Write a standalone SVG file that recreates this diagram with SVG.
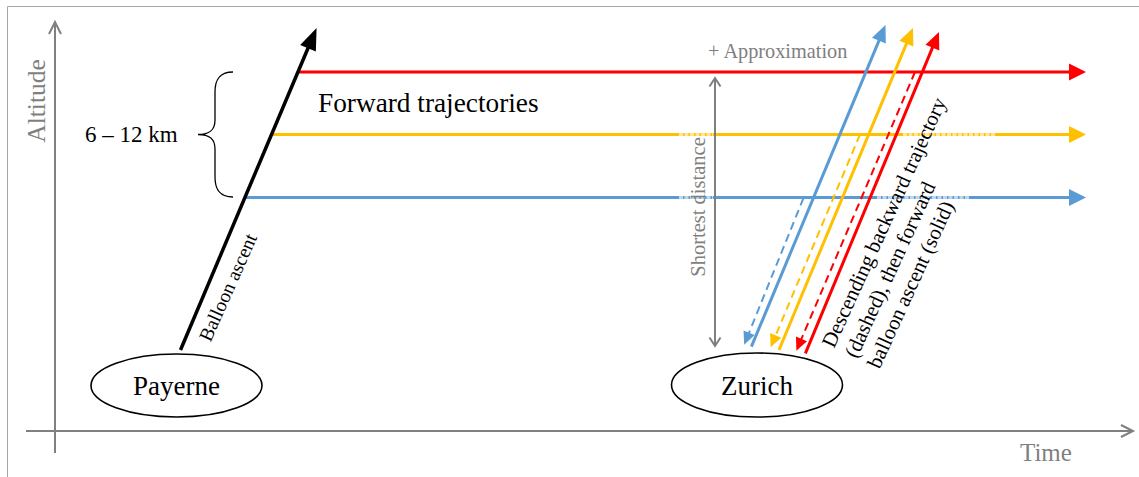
<svg xmlns="http://www.w3.org/2000/svg" width="1139" height="477" viewBox="0 0 1139 477">
<style>
text{font-family:"Liberation Serif","Times New Roman",serif;fill:#000}
.g{fill:#7f7f7f}
.axis{stroke:#808080;stroke-width:2;fill:none}
.node{fill:#fff;stroke:#000;stroke-width:1.6}
.red{stroke:#FF0000}
.yel{stroke:#FFC000}
.blu{stroke:#5B9BD5}
.h{stroke-width:3.2;fill:none}
.up{stroke-width:3;fill:none}
.dn{stroke-width:2;fill:none;stroke-dasharray:8 5}
.faint{stroke:#fff;stroke-opacity:0.6;stroke-width:3.4;stroke-dasharray:4 1.5;fill:none}
</style>
<defs>
<marker id="hR" markerUnits="userSpaceOnUse" markerWidth="20" markerHeight="20" refX="1" refY="8.5" orient="auto" overflow="visible"><path d="M0,0 L17,8.5 L0,17 z" fill="#FF0000"/></marker>
<marker id="hY" markerUnits="userSpaceOnUse" markerWidth="20" markerHeight="20" refX="1" refY="8.5" orient="auto" overflow="visible"><path d="M0,0 L17,8.5 L0,17 z" fill="#FFC000"/></marker>
<marker id="hB" markerUnits="userSpaceOnUse" markerWidth="20" markerHeight="20" refX="1" refY="8.5" orient="auto" overflow="visible"><path d="M0,0 L17,8.5 L0,17 z" fill="#5B9BD5"/></marker>
<marker id="uR" markerUnits="userSpaceOnUse" markerWidth="20" markerHeight="20" refX="1" refY="7.5" orient="auto" overflow="visible"><path d="M0,0 L17,7.5 L0,15 z" fill="#FF0000"/></marker>
<marker id="uY" markerUnits="userSpaceOnUse" markerWidth="20" markerHeight="20" refX="1" refY="7.5" orient="auto" overflow="visible"><path d="M0,0 L17,7.5 L0,15 z" fill="#FFC000"/></marker>
<marker id="uB" markerUnits="userSpaceOnUse" markerWidth="20" markerHeight="20" refX="1" refY="7.5" orient="auto" overflow="visible"><path d="M0,0 L17,7.5 L0,15 z" fill="#5B9BD5"/></marker>
<marker id="dR" markerUnits="userSpaceOnUse" markerWidth="16" markerHeight="16" refX="1" refY="6" orient="auto" overflow="visible"><path d="M0,0 L13,6 L0,12 z" fill="#FF0000"/></marker>
<marker id="dY" markerUnits="userSpaceOnUse" markerWidth="16" markerHeight="16" refX="1" refY="6" orient="auto" overflow="visible"><path d="M0,0 L13,6 L0,12 z" fill="#FFC000"/></marker>
<marker id="dB" markerUnits="userSpaceOnUse" markerWidth="16" markerHeight="16" refX="1" refY="6" orient="auto" overflow="visible"><path d="M0,0 L13,6 L0,12 z" fill="#5B9BD5"/></marker>
<marker id="bk" markerUnits="userSpaceOnUse" markerWidth="24" markerHeight="20" refX="1" refY="8.5" orient="auto" overflow="visible"><path d="M0,0 L22,8.5 L0,17 z" fill="#000"/></marker>
<marker id="axA" markerUnits="userSpaceOnUse" markerWidth="16" markerHeight="16" refX="0" refY="0" orient="auto" overflow="visible"><path d="M-12,-6 L0,0 L-12,6" fill="none" stroke="#808080" stroke-width="2"/></marker>
<marker id="sd" markerUnits="userSpaceOnUse" markerWidth="12" markerHeight="12" refX="0" refY="0" orient="auto-start-reverse" overflow="visible"><path d="M-8.5,-5.5 L0,0 L-8.5,5.5" fill="none" stroke="#7f7f7f" stroke-width="2"/></marker>
</defs>

<path d="M7.5,477 V6.5 H1139" fill="none" stroke="#a6a6a6" stroke-width="1"/>

<g id="axes">
<line class="axis" x1="55" y1="453" x2="55" y2="22" marker-end="url(#axA)"/>
<line class="axis" x1="26" y1="431" x2="1133" y2="431" marker-end="url(#axA)"/>
<text class="g" font-size="25.5" text-anchor="middle" transform="translate(45,101) rotate(-90)">Altitude</text>
<text class="g" font-size="25" x="1020" y="461">Time</text>
</g>

<g id="connectors">
<line class="h red" x1="298" y1="72" x2="1070" y2="72" marker-end="url(#hR)"/>
<line class="h yel" x1="272" y1="134.5" x2="1070" y2="134.5" marker-end="url(#hY)"/>
<line class="h blu" x1="245" y1="197.5" x2="1070" y2="197.5" marker-end="url(#hB)"/>
<line class="faint" x1="679" y1="134.5" x2="713" y2="134.5"/>
<line class="faint" x1="903" y1="134.5" x2="996" y2="134.5"/>
<line class="faint" x1="679" y1="197.5" x2="713" y2="197.5"/>
<line class="faint" x1="877" y1="197.5" x2="970" y2="197.5"/>

<line x1="180.5" y1="350" x2="308.4" y2="47.3" stroke="#000" stroke-width="3.5" marker-end="url(#bk)"/>

<line class="dn blu" x1="803.5" y1="198" x2="748.7" y2="333.6" marker-end="url(#dB)"/>
<line class="dn yel" x1="860" y1="134.5" x2="775.3" y2="336.3" marker-end="url(#dY)"/>
<line class="dn red" x1="915" y1="72" x2="801.1" y2="339.7" marker-end="url(#dR)"/>

<line class="up blu" x1="751.4" y1="346.7" x2="879.3" y2="39.8" marker-end="url(#uB)"/>
<line class="up yel" x1="779" y1="350" x2="906.8" y2="42.8" marker-end="url(#uY)"/>
<line class="up red" x1="805.4" y1="353.3" x2="932.8" y2="46.8" marker-end="url(#uR)"/>

<line x1="715" y1="78" x2="715" y2="346" stroke="#7f7f7f" stroke-width="2" marker-start="url(#sd)" marker-end="url(#sd)"/>
</g>

<g id="labels">
<path d="M233,72 C219,72 215,80 215,92 L215,120 C215,130 210,134.5 198,134.5 C210,134.5 215,139 215,149 L215,177 C215,189 219,197 233,197" fill="none" stroke="#000" stroke-width="1.3"/>
<text font-size="23" x="85" y="141.5">6 – 12 km</text>
<text font-size="27.3" x="318" y="112">Forward trajectories</text>
<text class="g" font-size="20.3" x="708" y="58">+ Approximation</text>
<text class="g" font-size="20.5" text-anchor="middle" transform="translate(705,207) rotate(-90)">Shortest distance</text>
<text font-size="19.5" text-anchor="middle" transform="translate(234,290) rotate(-66)">Balloon ascent</text>
<g transform="translate(834,349) rotate(-65.5)">
<text font-size="21" x="0" y="0">Descending backward trajectory</text>
<text font-size="21" x="0" y="25">(dashed), then forward</text>
<text font-size="21" x="0" y="50">balloon ascent (solid)</text>
</g>
</g>

<g id="payerne">
<ellipse class="node" cx="176.5" cy="385.5" rx="85.5" ry="31.5"/>
<text font-size="27" text-anchor="middle" x="176.5" y="395">Payerne</text>
</g>
<g id="zurich">
<ellipse class="node" cx="757" cy="385" rx="85.5" ry="32"/>
<text font-size="27" text-anchor="middle" x="757" y="395">Zurich</text>
</g>
</svg>
